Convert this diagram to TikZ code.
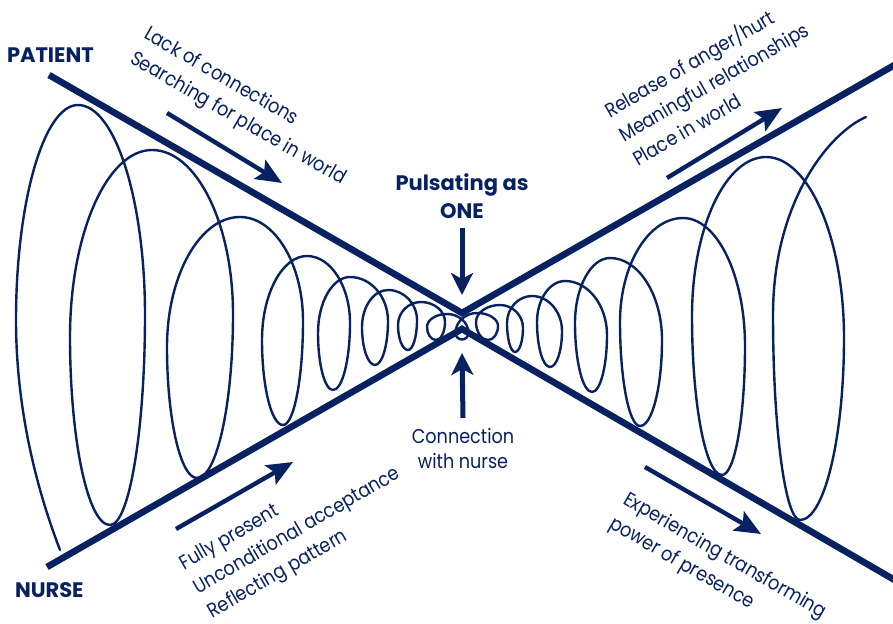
\documentclass[tikz,border=0pt]{standalone}
\usepackage{fontspec}
\setmainfont{Poppins}
\newfontfamily\bodyfont{Poppins}[FakeStretch=0.88]
\usetikzlibrary{arrows.meta}
\definecolor{navy}{RGB}{8,33,97}

% quarter-ellipse pieces of the coil:
% \coilvh goes from a side point (vertical tangent) to a top/bottom point (horizontal tangent),
% \coilhv goes the other way round
\def\kq{0.55}
\def\coilvh(#1,#2)(#3,#4){.. controls (#1,{#2+\kq*(#4-#2)}) and ({#3+\kq*(#1-#3)},#4) .. (#3,#4)}
\def\coilhv(#1,#2)(#3,#4){.. controls ({#1+\kq*(#3-#1)},#2) and (#3,{#4+\kq*(#2-#4)}) .. (#3,#4)}

\begin{document}
\begin{tikzpicture}[x=1pt,y=-1pt,
  every node/.style={text=navy, inner sep=0pt, outer sep=0pt},
  coil/.style={draw=navy, line width=2.4pt, line cap=round, line join=round},
  frame/.style={draw=navy, line width=6.6pt, line join=miter},
  flow/.style={draw=navy, line width=4.4pt, -{Stealth[length=26pt,width=22pt,inset=5pt]}},
  pointer/.style={draw=navy, line width=5pt, -{Stealth[length=22pt,width=22pt,inset=6pt]}},
  caption/.style={font=\bodyfont\fontsize{20}{28}\selectfont},
  heading/.style={font=\bfseries\fontsize{21}{28}\selectfont},
]
\useasboundingbox[fill=white] (0,0) rectangle (893,623);

% the coil: wide loops that shrink into the centre and open out again
\draw[coil] (60,550) .. controls (42,503) and (16,420) .. (16,320)
  \coilvh(16,320)(78,105)
  \coilhv(78,105)(145,315)
  \coilvh(145,315)(110,525)
  \coilhv(110,525)(70,337)
  \coilvh(70,337)(152,150)
  \coilhv(152,150)(233,314)
  \coilvh(233,314)(197,478)
  \coilhv(197,478)(167,347)
  \coilvh(167,347)(240,217)
  \coilhv(240,217)(303,321)
  \coilvh(303,321)(283,425)
  \coilhv(283,425)(262,340)
  \coilvh(262,340)(307,256)
  \coilhv(307,256)(350,323)
  \coilvh(350,323)(333,390)
  \coilhv(333,390)(318,333)
  \coilvh(318,333)(350,277)
  \coilhv(350,277)(388,321)
  \coilvh(388,321)(375,365)
  \coilhv(375,365)(362,327)
  \coilvh(362,327)(388,290)
  \coilhv(388,290)(417,320)
  \coilvh(417,320)(408,350)
  \coilhv(408,350)(398,325)
  \coilvh(398,325)(421,302)
  \coilhv(421,302)(445,322)
  \coilvh(445,322)(436,340)
  \coilhv(436,340)(427,327)
  \coilvh(427,327)(447,314)
  \coilhv(447,314)(468.5,333)
  \coilvh(468.5,333)(462,339.5)
  \coilhv(462,339.5)(455.5,333)
  \coilvh(455.5,333)(477,313)
  \coilhv(477,313)(498,326)
  \coilvh(498,326)(488,340)
  \coilhv(488,340)(476,322)
  \coilvh(476,322)(500,305)
  \coilhv(500,305)(523,328)
  \coilvh(523,328)(515,352)
  \coilhv(515,352)(507,323)
  \coilvh(507,323)(532,296)
  \coilhv(532,296)(562,331)
  \coilvh(562,331)(550,367)
  \coilhv(550,367)(537,322)
  \coilvh(537,322)(565,281)
  \coilhv(565,281)(607,335)
  \coilvh(607,335)(592,392)
  \coilhv(592,392)(575,323)
  \coilvh(575,323)(610,258)
  \coilhv(610,258)(662,340)
  \coilvh(662,340)(640,426)
  \coilhv(640,426)(620,322)
  \coilvh(620,322)(683,218)
  \coilhv(683,218)(745,346)
  \coilvh(745,346)(722,475)
  \coilhv(722,475)(692,316)
  \coilvh(692,316)(766,157)
  \coilhv(766,157)(844,338)
  \coilvh(844,338)(800,520)
  \coilhv(800,520)(773,315)
  .. controls (773,202) and (829,133) .. (866,117);

% the two converging / diverging boundaries
\coordinate (patientStart) at (49,75);
\coordinate (topMeet) at (462,313);
\coordinate (topEnd) at (905,59);
\coordinate (nurseStart) at (47,567);
\coordinate (lowMeet) at (462,329);
\coordinate (lowEnd) at (905,586);
\draw[frame] (patientStart) -- (topMeet) -- (topEnd);
\draw[frame] (nurseStart) -- (lowMeet) -- (lowEnd);

% side labels
\node[heading, anchor=base west] (patient) at (7,63) {PATIENT};
\node[heading, anchor=base west] (nurse) at (15,597) {NURSE};

% centre labels and pointers
\node[heading, anchor=base] (pulse1) at (462,190) {Pulsating as};
\node[heading, anchor=base] (pulse2) at (462,218) {ONE};
\node[caption, anchor=base] (conn1) at (463,443) {Connection};
\node[caption, anchor=base] (conn2) at (463,468) {with nurse};
\coordinate (pulseTip) at (462,295);
\coordinate (connTip) at (462,353);
\draw[pointer] (pulse2.south |- 0,228) -- (pulseTip);
\draw[pointer] (conn1.north |- 0,418) -- (connTip);

% slanted captions with their flow arrows
\begin{scope}[shift={(143,38)}, rotate=-30, transform shape]
  \node[caption, anchor=base west] (lack1) at (0,0) {Lack of connections};
  \node[caption, anchor=base west] (lack2) at (0,28) {Searching for place in world};
\end{scope}
\coordinate (lackFrom) at (167,113);
\coordinate (lackTo) at (282,183);
\draw[flow] (lackFrom) -- (lackTo);

\begin{scope}[shift={(610,118)}, rotate=30, transform shape]
  \node[caption, anchor=base west] (rel1) at (0,0) {Release of anger/hurt};
  \node[caption, anchor=base west] (rel2) at (0,28) {Meaningful relationships};
  \node[caption, anchor=base west] (rel3) at (0,56) {Place in world};
\end{scope}
\coordinate (relFrom) at (667,178);
\coordinate (relTo) at (782,108);
\draw[flow] (relFrom) -- (relTo);

\begin{scope}[shift={(184.5,570)}, rotate=30, transform shape]
  \node[caption, anchor=base west] (full1) at (0,0) {Fully present};
  \node[caption, anchor=base west] (full2) at (0,28) {Unconditional acceptance};
  \node[caption, anchor=base west] (full3) at (0,56) {Reflecting pattern};
\end{scope}
\coordinate (fullFrom) at (176,529);
\coordinate (fullTo) at (293,462);
\draw[flow] (fullFrom) -- (fullTo);

\begin{scope}[shift={(622,503)}, rotate=-30, transform shape]
  \node[caption, anchor=base west] (exp1) at (0,0) {Experiencing transforming};
  \node[caption, anchor=base west] (exp2) at (0,28) {power of presence};
\end{scope}
\coordinate (expFrom) at (645,467);
\coordinate (expTo) at (761,534);
\draw[flow] (expFrom) -- (expTo);
\end{tikzpicture}
\end{document}
